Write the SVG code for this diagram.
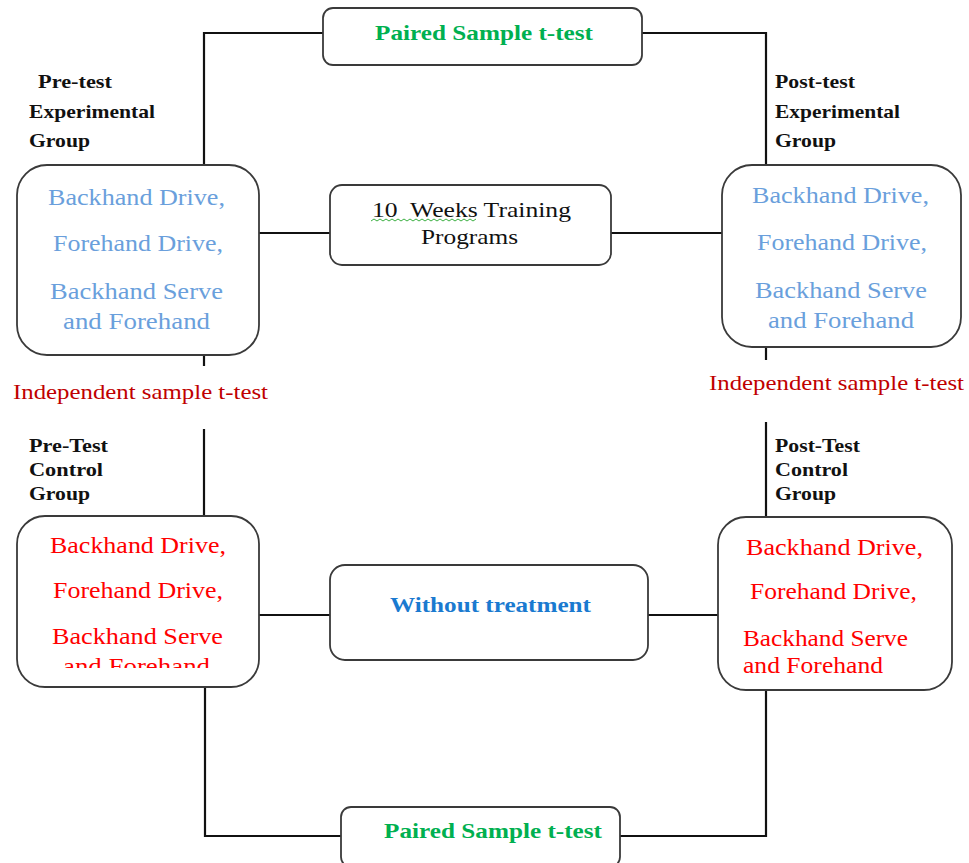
<svg xmlns="http://www.w3.org/2000/svg" width="969" height="863" viewBox="0 0 969 863">
<style>
.box{fill:#fff;stroke:#3a3a3a;stroke-width:1.8}
.ln{fill:none;stroke:#111;stroke-width:2.2}
text{font-family:'Liberation Serif','DejaVu Serif','Times New Roman',serif}
.sk{font-size:23px}
.blue{fill:#6a9fdc}
.red{fill:#ff0000}
.lab{font-size:19px;font-weight:bold;fill:#111}
.ind{font-size:21px;fill:#c00000}
.pair{font-size:21px;font-weight:bold;fill:#00b050}
.mid{font-size:21px;fill:#111}
.wo{font-size:21px;font-weight:bold;fill:#1a7ad0}
</style>
<defs>
<clipPath id="clipBL"><rect x="17" y="516" width="242" height="152"/></clipPath>
</defs>
<rect width="969" height="863" fill="#fff"/>
<g id="connectors">
<polyline class="ln" points="204,165 204,33 323,33"/>
<polyline class="ln" points="642,33 766,33 766,165"/>
<line class="ln" x1="259" y1="233" x2="330" y2="233"/>
<line class="ln" x1="611" y1="233" x2="722" y2="233"/>
<line class="ln" x1="204" y1="355" x2="204" y2="366"/>
<line class="ln" x1="766" y1="347" x2="766" y2="360"/>
<line class="ln" x1="204" y1="429" x2="204" y2="516"/>
<line class="ln" x1="766" y1="422" x2="766" y2="517"/>
<line class="ln" x1="259" y1="615" x2="330" y2="615"/>
<line class="ln" x1="648" y1="615" x2="718" y2="615"/>
<polyline class="ln" points="205,687 205,836 341,836"/>
<polyline class="ln" points="620,836 766,836 766,690"/>
</g>
<g id="paired-top">
<rect class="box" x="323" y="8" width="319" height="57" rx="10"/>
<text class="pair" x="375" y="40" textLength="218" lengthAdjust="spacingAndGlyphs">Paired Sample t-test</text>
</g>
<g id="label-pre-exp">
<text class="lab" x="38" y="88" textLength="74" lengthAdjust="spacingAndGlyphs">Pre-test</text>
<text class="lab" x="29" y="118" textLength="126" lengthAdjust="spacingAndGlyphs">Experimental</text>
<text class="lab" x="29" y="147" textLength="61" lengthAdjust="spacingAndGlyphs">Group</text>
</g>
<g id="label-post-exp">
<text class="lab" x="775" y="88" textLength="80" lengthAdjust="spacingAndGlyphs">Post-test</text>
<text class="lab" x="775" y="118" textLength="125" lengthAdjust="spacingAndGlyphs">Experimental</text>
<text class="lab" x="775" y="147" textLength="61" lengthAdjust="spacingAndGlyphs">Group</text>
</g>
<g id="pre-exp">
<rect class="box" x="17" y="165" width="242" height="190" rx="30"/>
<text class="sk blue" x="48" y="205" textLength="177" lengthAdjust="spacingAndGlyphs">Backhand Drive,</text>
<text class="sk blue" x="53" y="251" textLength="170" lengthAdjust="spacingAndGlyphs">Forehand Drive,</text>
<text class="sk blue" x="50" y="299" textLength="173" lengthAdjust="spacingAndGlyphs">Backhand Serve</text>
<text class="sk blue" x="63" y="329" textLength="147" lengthAdjust="spacingAndGlyphs">and Forehand</text>
</g>
<g id="training">
<rect class="box" x="330" y="185" width="281" height="80" rx="12"/>
<text class="mid" x="372" y="217" textLength="199" lengthAdjust="spacingAndGlyphs" xml:space="preserve">10  Weeks Training</text>
<text class="mid" x="421" y="244" textLength="97" lengthAdjust="spacingAndGlyphs">Programs</text>
<path d="M371,221 l3,-2 l3,2 l3,-2 l3,2 l3,-2 l3,2 l3,-2 l3,2 l3,-2 l3,2 l3,-2 l3,2 l3,-2 l3,2 l3,-2 l3,2 l3,-2 l3,2 l3,-2 l3,2 l3,-2 l3,2 l3,-2 l3,2 l3,-2 l3,2 l3,-2 l3,2 l3,-2 l3,2 l3,-2 l3,2 l3,-2 l3,2 l3,-2" fill="none" stroke="#3cb043" stroke-width="1"/>
</g>
<g id="post-exp">
<rect class="box" x="722" y="165" width="239" height="182" rx="30"/>
<text class="sk blue" x="752" y="203" textLength="177" lengthAdjust="spacingAndGlyphs">Backhand Drive,</text>
<text class="sk blue" x="757" y="250" textLength="170" lengthAdjust="spacingAndGlyphs">Forehand Drive,</text>
<text class="sk blue" x="755" y="298" textLength="172" lengthAdjust="spacingAndGlyphs">Backhand Serve</text>
<text class="sk blue" x="768" y="328" textLength="146" lengthAdjust="spacingAndGlyphs">and Forehand</text>
</g>
<g id="ind-left">
<text class="ind" x="13" y="399" textLength="255" lengthAdjust="spacingAndGlyphs">Independent sample t-test</text>
</g>
<g id="ind-right">
<text class="ind" x="709" y="390" textLength="255" lengthAdjust="spacingAndGlyphs">Independent sample t-test</text>
</g>
<g id="label-pre-ctrl">
<text class="lab" x="29" y="452" textLength="79" lengthAdjust="spacingAndGlyphs">Pre-Test</text>
<text class="lab" x="29" y="476" textLength="74" lengthAdjust="spacingAndGlyphs">Control</text>
<text class="lab" x="29" y="500" textLength="61" lengthAdjust="spacingAndGlyphs">Group</text>
</g>
<g id="label-post-ctrl">
<text class="lab" x="775" y="452" textLength="85" lengthAdjust="spacingAndGlyphs">Post-Test</text>
<text class="lab" x="775" y="476" textLength="73" lengthAdjust="spacingAndGlyphs">Control</text>
<text class="lab" x="775" y="500" textLength="61" lengthAdjust="spacingAndGlyphs">Group</text>
</g>
<g id="pre-ctrl">
<rect class="box" x="17" y="516" width="242" height="171" rx="28"/>
<g clip-path="url(#clipBL)">
<text class="sk red" x="50" y="553" textLength="176" lengthAdjust="spacingAndGlyphs">Backhand Drive,</text>
<text class="sk red" x="53" y="598" textLength="170" lengthAdjust="spacingAndGlyphs">Forehand Drive,</text>
<text class="sk red" x="52" y="644" textLength="171" lengthAdjust="spacingAndGlyphs">Backhand Serve</text>
<text class="sk red" x="63" y="674" textLength="147" lengthAdjust="spacingAndGlyphs">and Forehand</text>
</g>
</g>
<g id="without">
<rect class="box" x="330" y="565" width="318" height="95" rx="15"/>
<text class="wo" x="390" y="612" textLength="201" lengthAdjust="spacingAndGlyphs">Without treatment</text>
</g>
<g id="post-ctrl">
<rect class="box" x="718" y="517" width="234" height="173" rx="28"/>
<text class="sk red" x="746" y="555" textLength="177" lengthAdjust="spacingAndGlyphs">Backhand Drive,</text>
<text class="sk red" x="750" y="599" textLength="167" lengthAdjust="spacingAndGlyphs">Forehand Drive,</text>
<text class="sk red" x="743" y="646" textLength="165" lengthAdjust="spacingAndGlyphs">Backhand Serve</text>
<text class="sk red" x="743" y="673" textLength="140" lengthAdjust="spacingAndGlyphs">and Forehand</text>
</g>
<g id="paired-bottom">
<rect class="box" x="341" y="807" width="279" height="60" rx="10"/>
<text class="pair" x="384" y="838" textLength="218" lengthAdjust="spacingAndGlyphs">Paired Sample t-test</text>
</g>
</svg>
